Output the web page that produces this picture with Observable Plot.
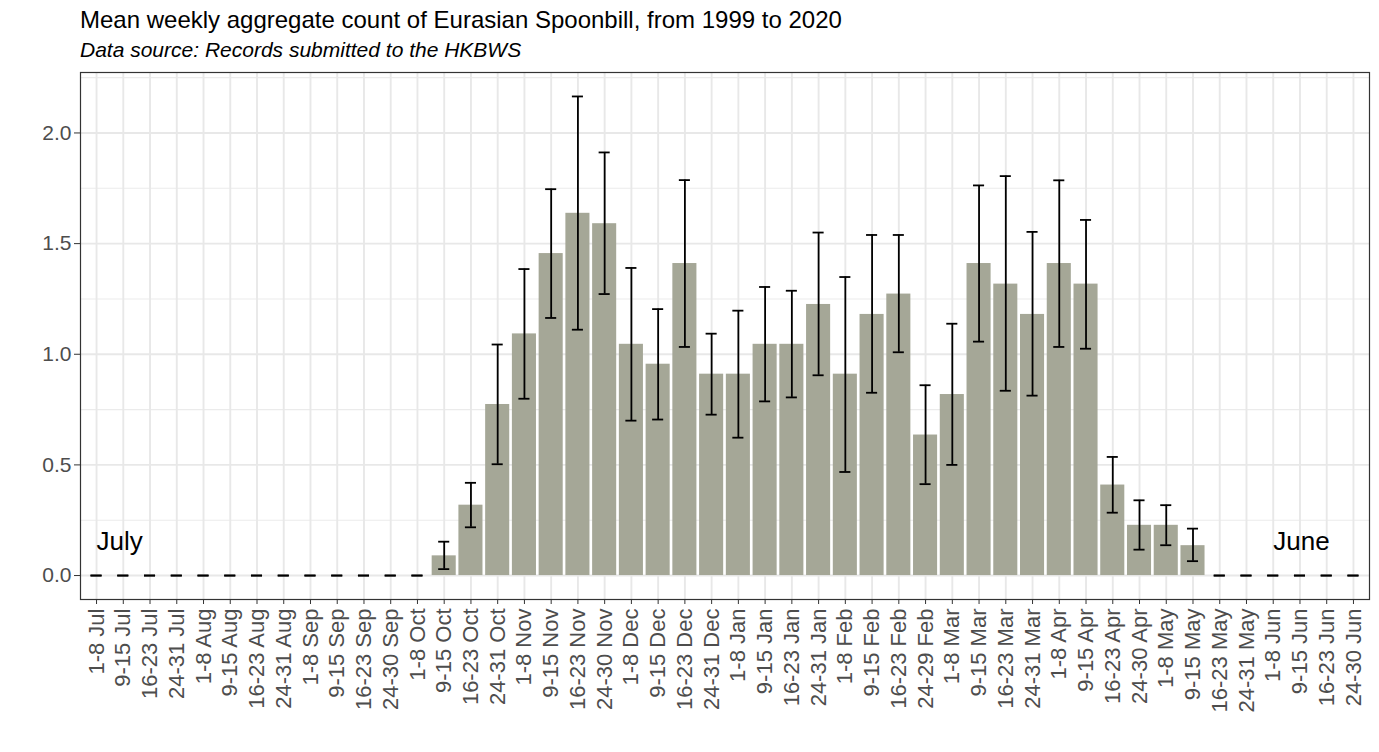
<!DOCTYPE html>
<html>
<head>
<meta charset="utf-8">
<script src="https://cdn.jsdelivr.net/npm/d3@7"></script>
<script src="https://cdn.jsdelivr.net/npm/@observablehq/plot@0.6"></script>
<style>
  html, body { margin: 0; padding: 0; background: #fff; }
  #wrap { position: relative; width: 1379px; height: 752px; font-family: "Liberation Sans", Arial, sans-serif; }
  #title { position: absolute; left: 80px; top: 8px; font-size: 24px; line-height: 24px; color: #000; white-space: nowrap; }
  #subtitle { position: absolute; left: 80px; top: 39px; font-size: 21px; line-height: 21px; font-style: italic; color: #000; white-space: nowrap; }
  #chart { position: absolute; left: 0; top: 0; }
</style>
</head>
<body>
<div id="wrap">
  <div id="chart"></div>
  <div id="title">Mean weekly aggregate count of Eurasian Spoonbill, from 1999 to 2020</div>
  <div id="subtitle">Data source: Records submitted to the HKBWS</div>
</div>
<script>
const weeks = [
  "1-8 Jul", "9-15 Jul", "16-23 Jul", "24-31 Jul",
  "1-8 Aug", "9-15 Aug", "16-23 Aug", "24-31 Aug",
  "1-8 Sep", "9-15 Sep", "16-23 Sep", "24-30 Sep",
  "1-8 Oct", "9-15 Oct", "16-23 Oct", "24-31 Oct",
  "1-8 Nov", "9-15 Nov", "16-23 Nov", "24-30 Nov",
  "1-8 Dec", "9-15 Dec", "16-23 Dec", "24-31 Dec",
  "1-8 Jan", "9-15 Jan", "16-23 Jan", "24-31 Jan",
  "1-8 Feb", "9-15 Feb", "16-23 Feb", "24-29 Feb",
  "1-8 Mar", "9-15 Mar", "16-23 Mar", "24-31 Mar",
  "1-8 Apr", "9-15 Apr", "16-23 Apr", "24-30 Apr",
  "1-8 May", "9-15 May", "16-23 May", "24-31 May",
  "1-8 Jun", "9-15 Jun", "16-23 Jun", "24-30 Jun"
];

const means = [
  0, 0, 0, 0, 0, 0, 0, 0, 0, 0, 0, 0, 0,
  0.089, 0.318, 0.773,
  1.092, 1.455, 1.637, 1.590,
  1.045, 0.955, 1.410, 0.910,
  0.910, 1.045, 1.045, 1.225,
  0.910, 1.180, 1.272, 0.635,
  0.818, 1.410, 1.317, 1.180,
  1.410, 1.317, 0.409, 0.227,
  0.227, 0.135,
  0, 0, 0, 0, 0, 0
];

const lows = [
  0, 0, 0, 0, 0, 0, 0, 0, 0, 0, 0, 0, 0,
  0.029, 0.218, 0.503,
  0.799, 1.164, 1.111, 1.272,
  0.700, 0.705, 1.033, 0.727,
  0.623, 0.787, 0.805, 0.905,
  0.468, 0.826, 1.009, 0.413,
  0.500, 1.057, 0.835, 0.813,
  1.033, 1.025, 0.284, 0.117,
  0.137, 0.065,
  0, 0, 0, 0, 0, 0
];

const highs = [
  0, 0, 0, 0, 0, 0, 0, 0, 0, 0, 0, 0, 0,
  0.153, 0.419, 1.044,
  1.385, 1.746, 2.165, 1.912,
  1.390, 1.204, 1.787, 1.093,
  1.197, 1.304, 1.287, 1.550,
  1.349, 1.539, 1.539, 0.860,
  1.138, 1.763, 1.805, 1.553,
  1.786, 1.607, 0.536, 0.340,
  0.318, 0.212,
  0, 0, 0, 0, 0, 0
];

const yTicks = [0, 0.5, 1.0, 1.5, 2.0];
const yMinor = [0.25, 0.75, 1.25, 1.75, 2.25];
const monthNotes = [
  {week: "1-8 Jul", y: 0.152, label: "July"},
  {week: "1-8 Jun", y: 0.152, label: "June"}
];

const data = weeks.map((w, i) => ({week: w, mean: means[i], low: lows[i], high: highs[i]}));

// ggplot-style 5% expansion of the data range (0 .. max of upper bounds)
const yMax = d3.max(highs);
const pad = 0.05 * yMax;

const chart = Plot.plot({
  width: 1379,
  height: 752,
  marginTop: 72,
  marginBottom: 153,
  marginLeft: 80,
  marginRight: 10,
  style: {fontFamily: "'Liberation Sans', Arial, sans-serif", background: "white", overflow: "visible"},
  x: {type: "band", domain: weeks, paddingInner: 0.1, paddingOuter: 0.15, align: 0.5},
  y: {domain: [-pad, yMax + pad]},
  marks: [
    Plot.gridY(yMinor, {stroke: "#ebebeb", strokeOpacity: 1, strokeWidth: 1.1}),
    Plot.gridY(yTicks, {stroke: "#e8e8e8", strokeOpacity: 1, strokeWidth: 1.9}),
    Plot.gridX(weeks, {stroke: "#e8e8e8", strokeOpacity: 1, strokeWidth: 1.9}),
    Plot.barY(data, {x: "week", y: "mean", fill: "#a5a797"}),
    Plot.ruleX(data, {x: "week", y1: "low", y2: "high", stroke: "#000", strokeWidth: 1.8}),
    Plot.tickY(data, {x: "week", y: "low", stroke: "#000", strokeWidth: 1.8, insetLeft: 6.5, insetRight: 6.5}),
    Plot.tickY(data, {x: "week", y: "high", stroke: "#000", strokeWidth: 1.8, insetLeft: 6.5, insetRight: 6.5}),
    Plot.text(monthNotes, {x: "week", y: "y", text: "label", textAnchor: "start", lineAnchor: "middle", fontSize: 26, fill: "#000"}),
    Plot.frame({stroke: "#333", strokeWidth: 1.2}),
    Plot.axisY(yTicks, {tickFormat: d => d.toFixed(1), fontSize: 21, fill: "#4d4d4d", stroke: "#333", tickSize: 6, tickPadding: 3, label: null}),
    Plot.axisX({tickRotate: -90, fontSize: 22, fill: "#4d4d4d", stroke: "#333", tickSize: 5, tickPadding: 4, label: null})
  ]
});

document.getElementById("chart").appendChild(chart);
</script>
</body>
</html>
